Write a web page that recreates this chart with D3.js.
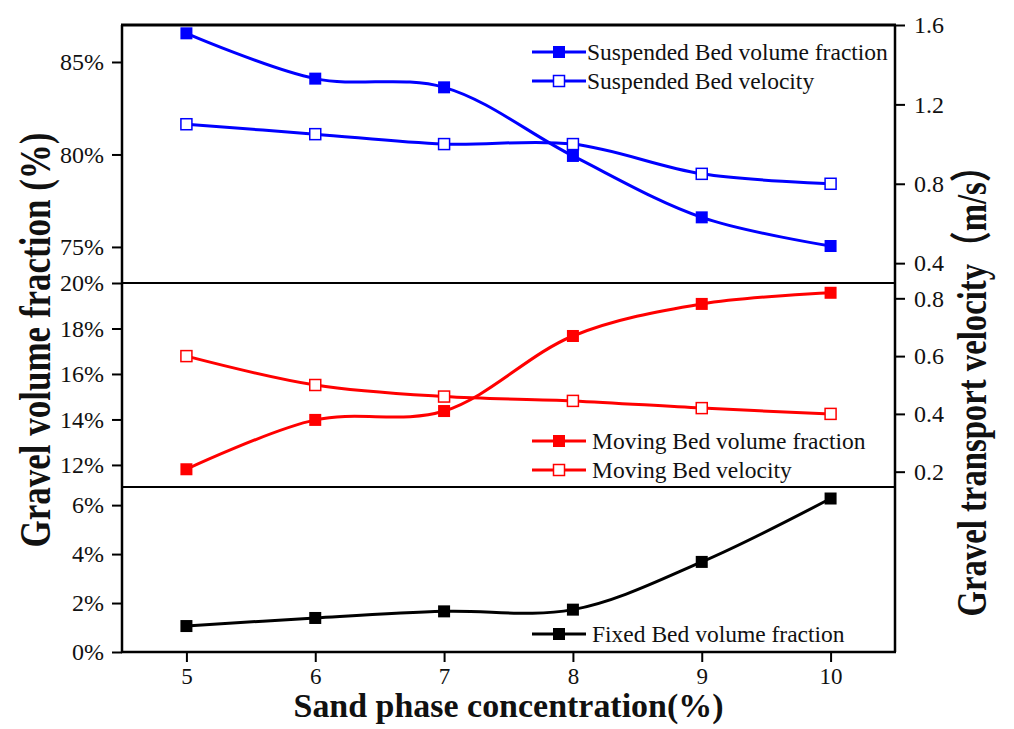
<!DOCTYPE html>
<html>
<head>
<meta charset="utf-8">
<script src="https://cdn.jsdelivr.net/npm/d3@7"></script>
<style>
  html, body { margin: 0; padding: 0; background: #fff; }
  svg { display: block; }
  text { font-family: "Liberation Serif", "Times New Roman", "Noto Sans CJK SC", serif; fill: #111; }
</style>
</head>
<body>
<svg id="chart" width="1014" height="729"></svg>
<script>
// Sand phase concentration (%) on the shared x axis
const sandConc = [5, 6, 7, 8, 9, 10];

// Suspended bed (top panel)
const suspendedFraction = [86.55, 84.1, 83.63, 79.92, 76.6, 75.05];   // %
const suspendedVelocity = [1.10, 1.05, 1.00, 1.00, 0.85, 0.80];       // m/s

// Moving bed (middle panel)
const movingFraction = [11.81, 13.98, 14.37, 17.67, 19.08, 19.57];    // %
const movingVelocity = [0.60, 0.50, 0.46, 0.445, 0.42, 0.40];         // m/s

// Fixed bed (bottom panel)
const fixedFraction = [1.06, 1.39, 1.66, 1.73, 3.68, 6.27];           // %

// Tick values
const xTicks = [5, 6, 7, 8, 9, 10];
const topLeftTicks = [75, 80, 85];
const topRightTicks = [0.4, 0.8, 1.2, 1.6];
const midLeftTicks = [12, 14, 16, 18, 20];
const midRightTicks = [0.2, 0.4, 0.6, 0.8];
const botLeftTicks = [0, 2, 4, 6];

// Legend labels
const topLegend = ["Suspended Bed volume fraction", "Suspended Bed velocity"];
const midLegend = ["Moving Bed volume fraction", "Moving Bed velocity"];
const botLegend = ["Fixed Bed volume fraction"];

const svg = d3.select("#chart");

const left = 122, right = 895;
const topY = 25, div1 = 283, div2 = 487, bottomY = 652;

const x = d3.scaleLinear().domain([4.5, 10.5]).range([left, right]);

const yTopL = d3.scaleLinear().domain([73.05, 87]).range([div1, topY]);
const yTopR = d3.scaleLinear().domain([0.3, 1.6]).range([div1, topY]);
const yMidL = d3.scaleLinear().domain([11.03, 20]).range([div2, div1]);
const yMidR = d3.scaleLinear().domain([0.147, 0.853]).range([div2, div1]);
const yBotL = d3.scaleLinear().domain([0, 6.74]).range([bottomY, div2]);

const BLUE = "#0000ff", RED = "#ff0000", BLACK = "#000";
const pct = d => d + "%";

// ---- axes ----
function styleAxis(g, size) {
  g.select(".domain").remove();
  g.selectAll(".tick line").attr("stroke", "#000").attr("stroke-width", 2);
  g.selectAll(".tick text")
    .attr("font-family", "Liberation Serif, Times New Roman, serif")
    .attr("font-size", size).attr("fill", "#1a1a1a");
}

svg.append("g").attr("transform", `translate(${left},0)`)
  .call(d3.axisLeft(yTopL).tickValues(topLeftTicks).tickFormat(pct).tickSize(10).tickPadding(8))
  .call(g => styleAxis(g, 24));
svg.append("g").attr("transform", `translate(${left},0)`)
  .call(d3.axisLeft(yMidL).tickValues(midLeftTicks).tickFormat(pct).tickSize(10).tickPadding(8))
  .call(g => styleAxis(g, 24));
svg.append("g").attr("transform", `translate(${left},0)`)
  .call(d3.axisLeft(yBotL).tickValues(botLeftTicks).tickFormat(pct).tickSize(10).tickPadding(8))
  .call(g => styleAxis(g, 24));

svg.append("g").attr("transform", `translate(${right},0)`)
  .call(d3.axisRight(yTopR).tickValues(topRightTicks).tickFormat(d3.format(".1f")).tickSize(10).tickPadding(9))
  .call(g => styleAxis(g, 24));
svg.append("g").attr("transform", `translate(${right},0)`)
  .call(d3.axisRight(yMidR).tickValues(midRightTicks).tickFormat(d3.format(".1f")).tickSize(10).tickPadding(9))
  .call(g => styleAxis(g, 24));

svg.append("g").attr("transform", `translate(0,${bottomY})`)
  .call(d3.axisBottom(x).tickValues(xTicks).tickFormat(d3.format("d")).tickSize(10).tickPadding(6))
  .call(g => styleAxis(g, 23));

// ---- frame & panel dividers ----
const frame = svg.append("g").attr("stroke", "#000").attr("fill", "none");
frame.append("line").attr("x1", left - 1).attr("x2", right + 1).attr("y1", topY).attr("y2", topY).attr("stroke-width", 3);
frame.append("line").attr("x1", left).attr("x2", left).attr("y1", topY).attr("y2", bottomY).attr("stroke-width", 2.5);
frame.append("line").attr("x1", right).attr("x2", right).attr("y1", topY).attr("y2", bottomY).attr("stroke-width", 2.5);
frame.append("line").attr("x1", left - 1).attr("x2", right + 1).attr("y1", bottomY).attr("y2", bottomY).attr("stroke-width", 2.5);
[div1, div2].forEach(yv =>
  frame.append("line").attr("x1", left).attr("x2", right).attr("y1", yv).attr("y2", yv).attr("stroke-width", 2.2));

// ---- series ----
const curve = d3.curveCatmullRom.alpha(0.5);

function drawSeries(values, yScale, color, filled) {
  const pts = sandConc.map((c, i) => [x(c), yScale(values[i])]);
  svg.append("path")
    .attr("d", d3.line().curve(curve)(pts))
    .attr("fill", "none").attr("stroke", color).attr("stroke-width", 3);
  const s = filled ? 12 : 11;
  svg.append("g").selectAll("rect").data(pts).join("rect")
    .attr("x", d => d[0] - s / 2).attr("y", d => d[1] - s / 2)
    .attr("width", s).attr("height", s)
    .attr("fill", filled ? color : "#fff")
    .attr("stroke", color).attr("stroke-width", filled ? 0 : 1.5);
}

drawSeries(suspendedFraction, yTopL, BLUE, true);
drawSeries(suspendedVelocity, yTopR, BLUE, false);
drawSeries(movingFraction, yMidL, RED, true);
drawSeries(movingVelocity, yMidR, RED, false);
drawSeries(fixedFraction, yBotL, BLACK, true);

// ---- legends ----
function legend(items, x0, y0, rowH, color, textX) {
  items.forEach((label, i) => {
    const yy = y0 + i * rowH;
    const filled = i === 0;
    const g = svg.append("g");
    g.append("line").attr("x1", x0).attr("x2", x0 + 54).attr("y1", yy).attr("y2", yy)
      .attr("stroke", color).attr("stroke-width", 3);
    const s = filled ? 12 : 11;
    g.append("rect").attr("x", x0 + 27 - s / 2).attr("y", yy - s / 2).attr("width", s).attr("height", s)
      .attr("fill", filled ? color : "#fff").attr("stroke", color).attr("stroke-width", filled ? 0 : 1.5);
    g.append("text").attr("x", textX).attr("y", yy).attr("dy", "0.33em")
      .attr("font-size", 23.5).text(label);
  });
}
legend(topLegend, 532, 52, 29, BLUE, 587);
legend(midLegend, 532, 441, 29, RED, 592);
legend(botLegend, 532, 634, 29, BLACK, 592);

// ---- titles ----
svg.append("text")
  .attr("x", (left + right) / 2).attr("y", 717)
  .attr("text-anchor", "middle").attr("font-weight", "bold").attr("font-size", 33)
  .attr("fill", "#000")
  .attr("textLength", 430).attr("lengthAdjust", "spacingAndGlyphs")
  .text("Sand phase concentration(%)");

svg.append("text")
  .attr("transform", `translate(50,340) rotate(-90)`)
  .attr("text-anchor", "middle").attr("font-weight", "bold").attr("font-size", 45)
  .attr("fill", "#000")
  .attr("textLength", 415).attr("lengthAdjust", "spacingAndGlyphs")
  .text("Gravel volume fraction (%)");

svg.append("text")
  .attr("transform", `translate(986,383) rotate(-90)`)
  .attr("text-anchor", "middle").attr("font-weight", "bold").attr("font-size", 42)
  .attr("fill", "#000")
  .attr("textLength", 467).attr("lengthAdjust", "spacingAndGlyphs")
  .text("Gravel transport velocity（m/s）");
</script>
</body>
</html>
